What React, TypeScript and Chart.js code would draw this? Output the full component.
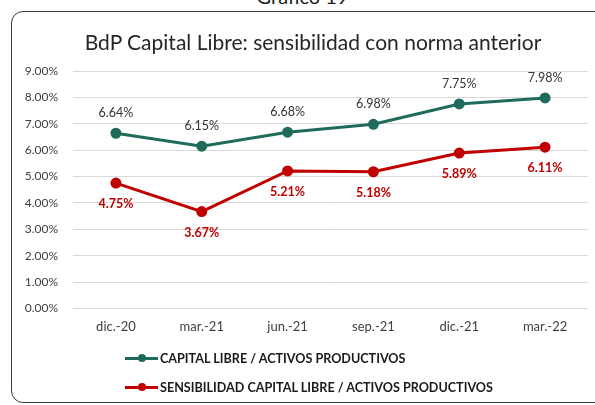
import React, { useEffect, useRef } from "react";
import { Chart, registerables } from "chart.js";

Chart.register(...registerables);

const headerText = "Gráfico 19";
const chartTitle = "BdP Capital Libre: sensibilidad con norma anterior";
const categories = ["dic.-20", "mar.-21", "jun.-21", "sep.-21", "dic.-21", "mar.-22"];
const capitalLibre = [6.64, 6.15, 6.68, 6.98, 7.75, 7.98];
const sensibilidad = [4.75, 3.67, 5.21, 5.18, 5.89, 6.11];
const seriesNames = [
  "CAPITAL LIBRE / ACTIVOS PRODUCTIVOS",
  "SENSIBILIDAD CAPITAL LIBRE / ACTIVOS PRODUCTIVOS",
];
const yMin = 0;
const yMax = 9;
const yStep = 1;

const GREEN = "#1f6b5b";
const RED = "#c00000";
const FONT = "Lato";

const valueLabels = {
  id: "valueLabels",
  afterDatasetsDraw(chart: any) {
    const ctx = chart.ctx;
    chart.data.datasets.forEach((ds: any, i: number) => {
      const meta = chart.getDatasetMeta(i);
      const above = i === 0;
      ctx.save();
      ctx.font = above ? `12.5px ${FONT}` : `bold 12.5px ${FONT}`;
      ctx.fillStyle = above ? "#333333" : RED;
      ctx.textAlign = "center";
      ctx.textBaseline = "middle";
      meta.data.forEach((pt: any, j: number) => {
        const v = ds.data[j] as number;
        ctx.fillText(v.toFixed(2) + "%", pt.x, pt.y + (above ? -20 : 21));
      });
      ctx.restore();
    });
  },
};

function LegendItem({ color, label, top }: { color: string; label: string; top: number }) {
  return (
    <div style={{ position: "absolute", left: 125, top: top - 10, height: 20, display: "flex", alignItems: "center" }}>
      <div style={{ position: "relative", width: 33, height: 20 }}>
        <div style={{ position: "absolute", left: 0, top: 8.5, width: 33, height: 3, background: color }} />
        <div style={{ position: "absolute", left: 12.5, top: 6, width: 8, height: 8, borderRadius: 4, background: color }} />
      </div>
      <span style={{ marginLeft: 2, fontFamily: FONT, fontWeight: 700, fontSize: 12.6, color: "#1a1a1a", whiteSpace: "nowrap" }}>{label}</span>
    </div>
  );
}

export default function App() {
  const canvasRef = useRef<HTMLCanvasElement | null>(null);

  useEffect(() => {
    if (!canvasRef.current) return;
    const chart = new Chart(canvasRef.current, {
      type: "line",
      data: {
        labels: categories,
        datasets: [
          {
            label: seriesNames[0],
            data: capitalLibre,
            borderColor: GREEN,
            backgroundColor: GREEN,
            borderWidth: 3,
            pointRadius: 4,
            pointBackgroundColor: GREEN,
            pointBorderColor: GREEN,
            tension: 0,
          },
          {
            label: seriesNames[1],
            data: sensibilidad,
            borderColor: RED,
            backgroundColor: RED,
            borderWidth: 3,
            pointRadius: 4,
            pointBackgroundColor: RED,
            pointBorderColor: RED,
            tension: 0,
          },
        ],
      },
      options: {
        animation: false,
        responsive: true,
        maintainAspectRatio: false,
        layout: { padding: { left: 0, right: 7, top: 59, bottom: 8 } },
        plugins: {
          legend: { display: false },
          tooltip: { enabled: false },
          title: { display: false },
        },
        scales: {
          x: {
            offset: true,
            grid: { display: false, drawTicks: false },
            border: { display: false },
            ticks: { padding: 11, color: "#404040", font: { family: FONT, size: 13 } },
          },
          y: {
            min: yMin,
            max: yMax,
            grid: { color: "#d9d9d9", lineWidth: 1, drawTicks: false },
            border: { display: false },
            afterFit: (scale: any) => {
              scale.width = 61;
            },
            ticks: {
              stepSize: yStep,
              padding: 15,
              color: "#404040",
              font: { family: FONT, size: 12 },
              callback: (v: any) => Number(v).toFixed(2) + "%",
            },
          },
        },
      },
      plugins: [valueLabels],
    });
    return () => chart.destroy();
  }, []);

  return (
    <div style={{ position: "absolute", left: 0, top: 0, width: 595, height: 405, overflow: "hidden", background: "#fff" }}>
      <div style={{ position: "absolute", left: 0, width: 595, top: -14, textAlign: "center", fontFamily: FONT, fontSize: 20, lineHeight: "20px", color: "#222", paddingLeft: 10, boxSizing: "border-box" }}>
        {headerText}
      </div>
      <div style={{ position: "absolute", left: 11, top: 11, width: 640, height: 392, border: "1.3px solid #3a3a3a", borderRadius: 12, boxSizing: "border-box" }} />
      <div style={{ position: "absolute", left: 12, top: 12, width: 583, height: 342 }}>
        <canvas ref={canvasRef} />
      </div>
      <div style={{ position: "absolute", left: 0, width: 626, top: 29, textAlign: "center", fontFamily: FONT, fontSize: 21, lineHeight: "26px", color: "#262626", whiteSpace: "nowrap" }}>
        {chartTitle}
      </div>
      <LegendItem color={GREEN} label={seriesNames[0]} top={358} />
      <LegendItem color={RED} label={seriesNames[1]} top={387} />
    </div>
  );
}
